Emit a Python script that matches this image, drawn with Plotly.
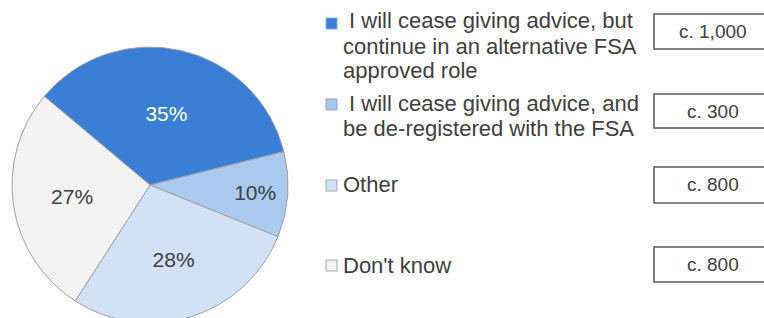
import plotly.graph_objects as go

# ---- data ----
categories = [
    "I will cease giving advice, but<br>continue in an alternative FSA<br>approved role",
    "I will cease giving advice, and<br>be de-registered with the FSA",
    "Other",
    "Don't know",
]
shares = [35, 10, 28, 27]
counts = ["c. 1,000", "c. 300", "c. 800", "c. 800"]

# ---- styles ----
colors = ["#3a7fd5", "#a9c9ee", "#d1e2f6", "#f2f2f2"]
text_colors = ["#ffffff", "#404040", "#404040", "#404040"]
square_borders = ["#7fa9e0", "#8fa6c2", "#a0aab8", "#a6a6a6"]
FONT = "Liberation Sans, Arial, sans-serif"

# figure is slightly taller than the 318px page; the pie runs off the bottom like the original
W, H = 764, 330


def px(x):
    return x / W


def py(y):
    return 1 - y / H


fig = go.Figure(
    go.Pie(
        values=shares,
        labels=[c.replace("<br>", " ") for c in categories],
        sort=False,
        direction="clockwise",
        rotation=-50,
        marker=dict(colors=colors, line=dict(color="#a0a0a0", width=1)),
        textinfo="percent",
        textposition="inside",
        insidetextorientation="horizontal",
        textfont=dict(family=FONT, size=21, color=text_colors),
        domain=dict(x=[px(12), px(288)], y=[py(323), py(47)]),
        showlegend=False,
        hoverinfo="label+percent",
    )
)

# legend lines and count boxes
line_centers = [[21, 46, 71], [103, 128], [185], [265]]
square_centers = [23.5, 104.5, 185.5, 265.5]
box_ranges = [(14, 49), (94, 128), (167, 203), (247, 282)]

shapes = []
annotations = []
for i, cat in enumerate(categories):
    sc = square_centers[i]
    shapes.append(dict(type="rect", xref="paper", yref="paper",
                       x0=px(326), x1=px(337), y0=py(sc + 5.5), y1=py(sc - 5.5),
                       fillcolor=colors[i], line=dict(color=square_borders[i], width=1)))
    lines = cat.split("<br>")
    for j, ln in enumerate(lines):
        txt = ("\u00a0" + ln) if (j == 0 and len(lines) > 1) else ln
        annotations.append(dict(xref="paper", yref="paper", x=px(341), y=py(line_centers[i][j]),
                                xanchor="left", yanchor="middle", showarrow=False,
                                text=txt, font=dict(family=FONT, size=22, color="#404040")))
    y0, y1 = box_ranges[i]
    shapes.append(dict(type="rect", xref="paper", yref="paper",
                       x0=px(654), x1=px(800), y0=py(y1), y1=py(y0),
                       fillcolor="#ffffff", line=dict(color="#595959", width=1.5)))
    annotations.append(dict(xref="paper", yref="paper", x=px(713), y=py((y0 + y1) / 2),
                            xanchor="center", yanchor="middle", showarrow=False,
                            text=counts[i], font=dict(family=FONT, size=19, color="#404040")))

fig.update_layout(
    width=W, height=H,
    margin=dict(l=0, r=0, t=0, b=0),
    paper_bgcolor="#ffffff",
    plot_bgcolor="#ffffff",
    shapes=shapes,
    annotations=annotations,
)

fig.write_html(
    "out.html",
    config={"displayModeBar": False},
    post_script=(
        "document.documentElement.style.overflow='hidden';"
        "document.body.style.margin='0';"
        "document.body.style.overflow='hidden';"
    ),
)
